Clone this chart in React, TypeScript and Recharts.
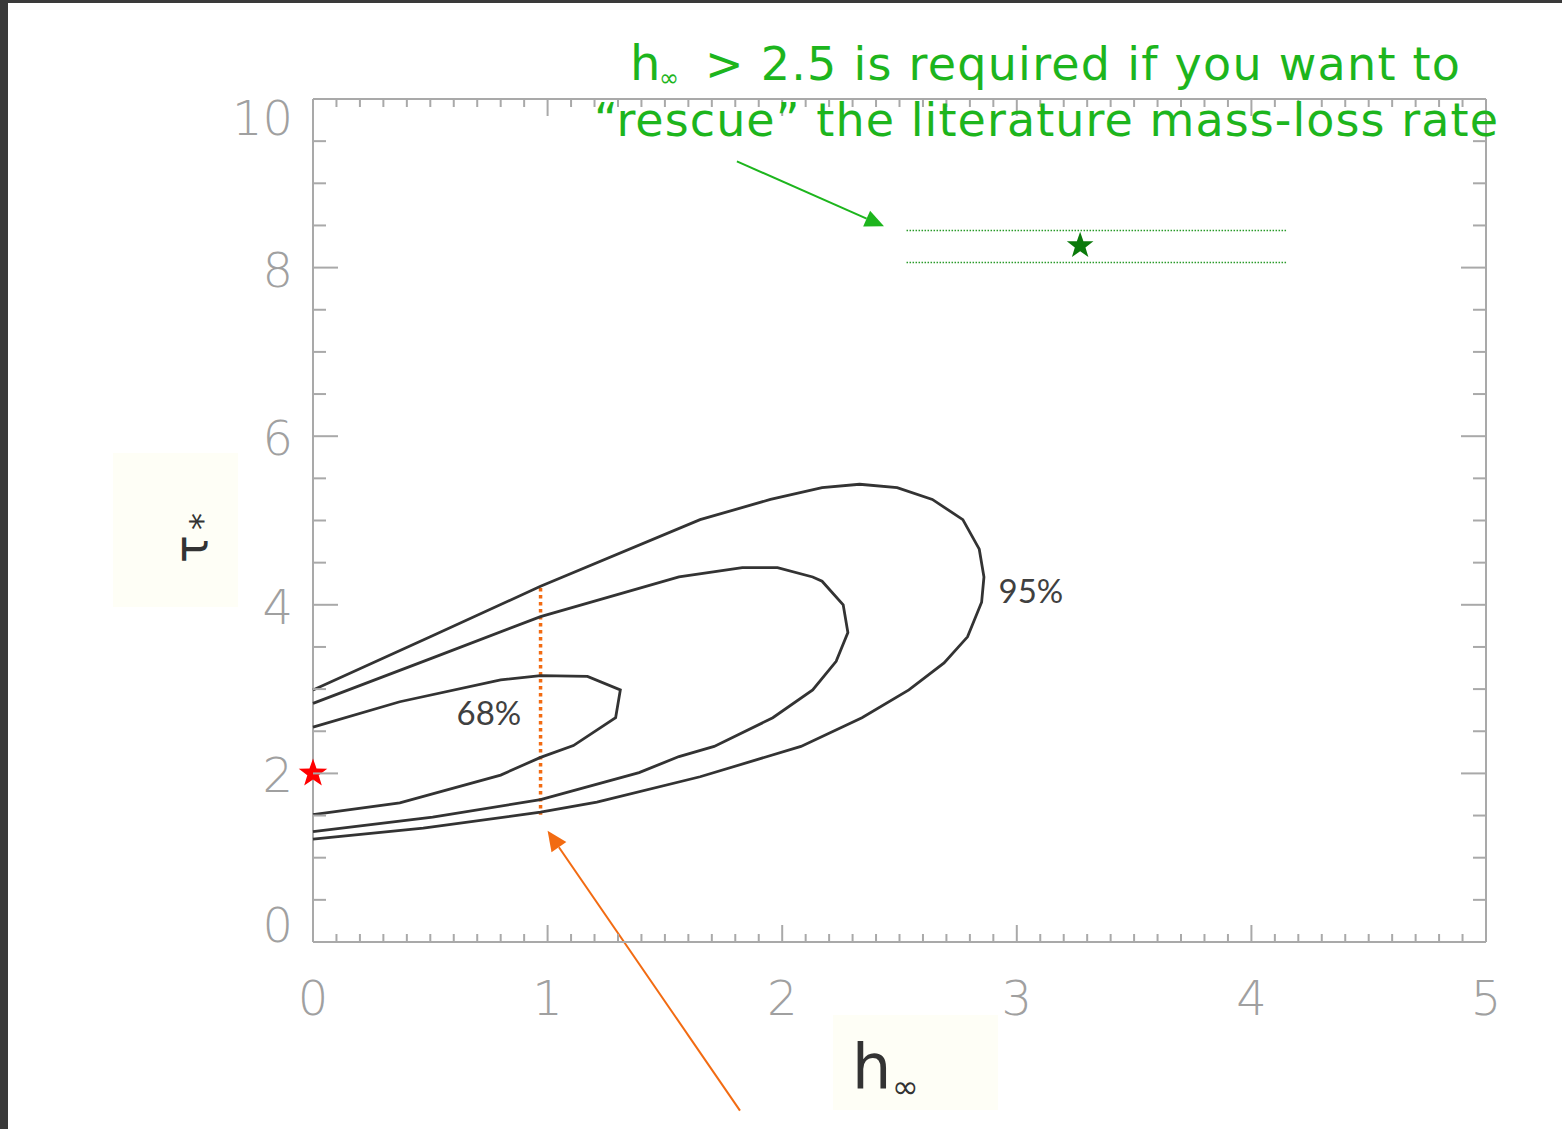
import React from 'react';
import {
  ComposedChart,
  ReferenceLine,
  Scatter,
  XAxis,
  YAxis,
} from 'recharts';

// confidence contours (h_inf, tau_*)
const outerH = [0, 0.5, 0.97, 1.65, 1.95, 2.17, 2.33, 2.49, 2.64, 2.77, 2.84, 2.86, 2.85, 2.79, 2.69, 2.54, 2.34, 2.08, 1.65, 1.21, 0.97, 0.47, 0];
const outerTau = [2.99, 3.62, 4.22, 5.01, 5.25, 5.39, 5.43, 5.39, 5.25, 5.01, 4.66, 4.33, 4.03, 3.62, 3.31, 2.99, 2.66, 2.32, 1.96, 1.66, 1.54, 1.35, 1.22];

const midH = [0, 0.51, 0.97, 1.56, 1.83, 1.98, 2.13, 2.17, 2.26, 2.28, 2.23, 2.13, 1.96, 1.71, 1.56, 1.39, 0.97, 0.51, 0];
const midTau = [2.83, 3.37, 3.86, 4.33, 4.44, 4.44, 4.33, 4.28, 4.0, 3.67, 3.33, 2.99, 2.66, 2.32, 2.2, 2.01, 1.69, 1.48, 1.31];

const innerH = [0, 0.37, 0.8, 0.97, 1.17, 1.31, 1.29, 1.11, 0.97, 0.8, 0.37, 0];
const innerTau = [2.55, 2.85, 3.11, 3.16, 3.15, 2.99, 2.66, 2.33, 2.19, 1.98, 1.65, 1.51];

const contourLabels = [
  { h: 0.75, tau: 2.73, text: '68%' },
  { h: 3.06, tau: 4.18, text: '95%' },
];

const literaturePoint = [{ h: 0, tau: 2.0 }];
const rescuePoint = [{ h: 3.27, tau: 8.26 }];

// orange cut at h = 1, green band for the literature rate
const cutH = 0.97;
const cutTau = [4.2, 1.51];
const bandH = [2.53, 4.15];
const bandTau = [8.44, 8.06];
const orangeArrow = [{ x: 1.82, y: -2.0 }, { x: 1.0, y: 1.32 }];
const greenArrow = [{ x: 1.807, y: 9.26 }, { x: 2.434, y: 8.49 }];

const xMajor = [0, 1, 2, 3, 4, 5];
const yMajor = [0, 2, 4, 6, 8, 10];
const xTicks = Array.from({ length: 51 }, (_, i) => +(i * 0.1).toFixed(1));
const yTicks = Array.from({ length: 21 }, (_, i) => i * 0.5);

const zip = (hs: number[], ts: number[]) => hs.map((h, i) => ({ h, tau: ts[i] }));
const outer = zip(outerH, outerTau);
const mid = zip(midH, midTau);
const inner = zip(innerH, innerTau);

const AXIS = '#a9a9a9';
const TICK_FONT = "'DejaVu Sans ExtraLight', 'DejaVu Sans Light', 'DejaVu Sans', sans-serif";
const GREEN = '#1db51d';
const ORANGE = '#f26b12';

const isMajorX = (v: number) => xMajor.some((m) => Math.abs(m - v) < 1e-6);
const isMajorY = (v: number) => yMajor.some((m) => Math.abs(m - v) < 1e-6);

function BottomTick(props: any) {
  const { x, y, payload } = props;
  const major = isMajorX(payload.value);
  return (
    <g>
      <line x1={x} x2={x} y1={y} y2={y - (major ? 17 : 8)} stroke={AXIS} strokeWidth={2} />
      {major && (
        <text x={x} y={y + 56} textAnchor="middle" dominantBaseline="central"
          style={{ fontFamily: TICK_FONT, fontWeight: 200, fontSize: 48, fill: '#a0a0a0' }}>
          {payload.value}
        </text>
      )}
    </g>
  );
}

function TopTick(props: any) {
  const { x, y, payload } = props;
  const major = isMajorX(payload.value);
  return <line x1={x} x2={x} y1={y} y2={y + (major ? 17 : 8)} stroke={AXIS} strokeWidth={2} />;
}

function LeftTick(props: any) {
  const { x, y, payload } = props;
  const v = payload.value;
  const major = isMajorY(v);
  // top and bottom labels are pushed inside the frame
  const shift = v === 10 ? 19 : v === 0 ? -17 : 2;
  return (
    <g>
      <line x1={x} x2={x + (major ? 25 : 13)} y1={y} y2={y} stroke={AXIS} strokeWidth={2} />
      {major && (
        <text x={x - 20} y={y + shift} textAnchor="end" dominantBaseline="central"
          style={{ fontFamily: TICK_FONT, fontWeight: 200, fontSize: 48, fill: '#a0a0a0' }}>
          {v}
        </text>
      )}
    </g>
  );
}

function RightTick(props: any) {
  const { x, y, payload } = props;
  const major = isMajorY(payload.value);
  return <line x1={x} x2={x - (major ? 25 : 13)} y1={y} y2={y} stroke={AXIS} strokeWidth={2} />;
}

function Star({ cx, cy, r, fill }: { cx: number; cy: number; r: number; fill: string }) {
  const pts: string[] = [];
  for (let i = 0; i < 10; i++) {
    const rad = i % 2 === 0 ? r : r * 0.4;
    const a = -Math.PI / 2 + (i * Math.PI) / 5;
    pts.push(`${cx + rad * Math.cos(a)},${cy + rad * Math.sin(a)}`);
  }
  return <polygon points={pts.join(' ')} fill={fill} />;
}

const arrowShape = (color: string, width: number, head: number) => (props: any) => {
  const { x1, y1, x2, y2 } = props;
  const a = Math.atan2(y2 - y1, x2 - x1);
  const bx = x2 - head * Math.cos(a);
  const by = y2 - head * Math.sin(a);
  const w = head * 0.45;
  const p1 = `${bx + w * Math.sin(a)},${by - w * Math.cos(a)}`;
  const p2 = `${bx - w * Math.sin(a)},${by + w * Math.cos(a)}`;
  return (
    <g>
      <line x1={x1} y1={y1} x2={bx} y2={by} stroke={color} strokeWidth={width} />
      <polygon points={`${x2},${y2} ${p1} ${p2}`} fill={color} />
    </g>
  );
};

const dottedShape = (color: string, width: number, dash: string) => (props: any) => (
  <line x1={props.x1} y1={props.y1} x2={props.x2} y2={props.y2}
    stroke={color} strokeWidth={width} strokeDasharray={dash} />
);

const contourLine = { stroke: '#333333', strokeWidth: 2.8 };

export default function App() {
  return (
    <div style={{ position: 'absolute', left: 0, top: 0, width: 1562, height: 1129, background: '#fff', overflow: 'hidden' }}>
      <div style={{ position: 'absolute', left: 0, top: 0, width: 8, height: 1129, background: '#3a3a3a' }} />
      <div style={{ position: 'absolute', left: 0, top: 0, width: 1562, height: 3, background: '#3a3a3a' }} />
      {/* faint boxes behind the axis titles */}
      <div style={{ position: 'absolute', left: 113, top: 453, width: 125, height: 154, background: '#fefef6' }} />
      <div style={{ position: 'absolute', left: 833, top: 1015, width: 165, height: 95, background: '#fefef6' }} />

      <div style={{ position: 'absolute', left: 0, top: 0 }}>
        <ComposedChart width={1562} height={1129} margin={{ top: 89, right: 66, bottom: 107, left: 213 }}>
          <XAxis dataKey="h" type="number" domain={[0, 5]} ticks={xTicks} interval={0}
            height={80} tickSize={0} tickMargin={0} axisLine={{ stroke: AXIS, strokeWidth: 2 }}
            tick={(p: any) => <BottomTick {...p} />} />
          <XAxis xAxisId="top" orientation="top" dataKey="h" type="number" domain={[0, 5]} ticks={xTicks}
            interval={0} height={10} tickSize={0} tickMargin={0} axisLine={{ stroke: AXIS, strokeWidth: 2 }}
            tick={(p: any) => <TopTick {...p} />} />
          <YAxis dataKey="tau" type="number" domain={[0, 10]} ticks={yTicks} interval={0}
            width={100} tickSize={0} tickMargin={0} axisLine={{ stroke: AXIS, strokeWidth: 2 }}
            tick={(p: any) => <LeftTick {...p} />} />
          <YAxis yAxisId="right" orientation="right" dataKey="tau" type="number" domain={[0, 10]}
            ticks={yTicks} interval={0} width={10} tickSize={0} tickMargin={0}
            axisLine={{ stroke: AXIS, strokeWidth: 2 }} tick={(p: any) => <RightTick {...p} />} />

          {/* invisible series so the mirrored top / right axes get their ticks */}
          <Scatter data={literaturePoint} xAxisId="top" yAxisId="right" shape={() => <g />} isAnimationActive={false} />

          <Scatter data={outer} line={contourLine} lineType="joint" shape={() => <g />} isAnimationActive={false} />
          <Scatter data={mid} line={contourLine} lineType="joint" shape={() => <g />} isAnimationActive={false} />
          <Scatter data={inner} line={contourLine} lineType="joint" shape={() => <g />} isAnimationActive={false} />

          <ReferenceLine segment={[{ x: cutH, y: cutTau[0] }, { x: cutH, y: cutTau[1] }]}
            shape={dottedShape(ORANGE, 3.5, '3.5 3.5')} />
          <ReferenceLine segment={[{ x: bandH[0], y: bandTau[0] }, { x: bandH[1], y: bandTau[0] }]}
            shape={dottedShape('#2a9a2a', 1.5, '1.5 1.5')} />
          <ReferenceLine segment={[{ x: bandH[0], y: bandTau[1] }, { x: bandH[1], y: bandTau[1] }]}
            shape={dottedShape('#2a9a2a', 1.5, '1.5 1.5')} />
          <ReferenceLine segment={orangeArrow} ifOverflow="visible" shape={arrowShape(ORANGE, 2, 20)} />
          <ReferenceLine segment={greenArrow} ifOverflow="visible" shape={arrowShape(GREEN, 2, 19)} />

          <Scatter data={contourLabels} isAnimationActive={false}
            shape={(p: any) => (
              <text x={p.cx} y={p.cy} textAnchor="middle" dominantBaseline="central"
                style={{ fontFamily: 'Lato, sans-serif', fontSize: 33, fill: '#404040' }}>
                {p.payload.text}
              </text>
            )} />
          <Scatter data={literaturePoint} isAnimationActive={false}
            shape={(p: any) => <Star cx={p.cx} cy={p.cy} r={15} fill="#ff0000" />} />
          <Scatter data={rescuePoint} isAnimationActive={false}
            shape={(p: any) => <Star cx={p.cx} cy={p.cy} r={14} fill="#0b7a0b" />} />
        </ComposedChart>
      </div>

      <svg width={1562} height={1129} style={{ position: 'absolute', left: 0, top: 0, pointerEvents: 'none' }}>
        <g style={{ fontFamily: "'DejaVu Sans', Verdana, sans-serif", fill: GREEN }}>
          <text x={630} y={80} fontSize={48}>h</text>
          <text x={659} y={86} fontSize={24}>∞</text>
          <text x={705} y={80} fontSize={46} textLength={755}>&gt; 2.5 is required if you want to</text>
          <text x={594} y={136} fontSize={46} textLength={904}>“rescue” the literature mass-loss rate</text>
        </g>
        <g style={{ fontFamily: "'DejaVu Sans', sans-serif", fill: '#333' }}>
          <text transform="translate(207, 563) rotate(-90)" fontSize={46}>τ</text>
          <text transform="translate(214, 530) rotate(-90)" fontSize={34}>*</text>
          <text x={852} y={1088} fontSize={62}>h</text>
          <text x={892} y={1098} fontSize={32}>∞</text>
        </g>
      </svg>
    </div>
  );
}
